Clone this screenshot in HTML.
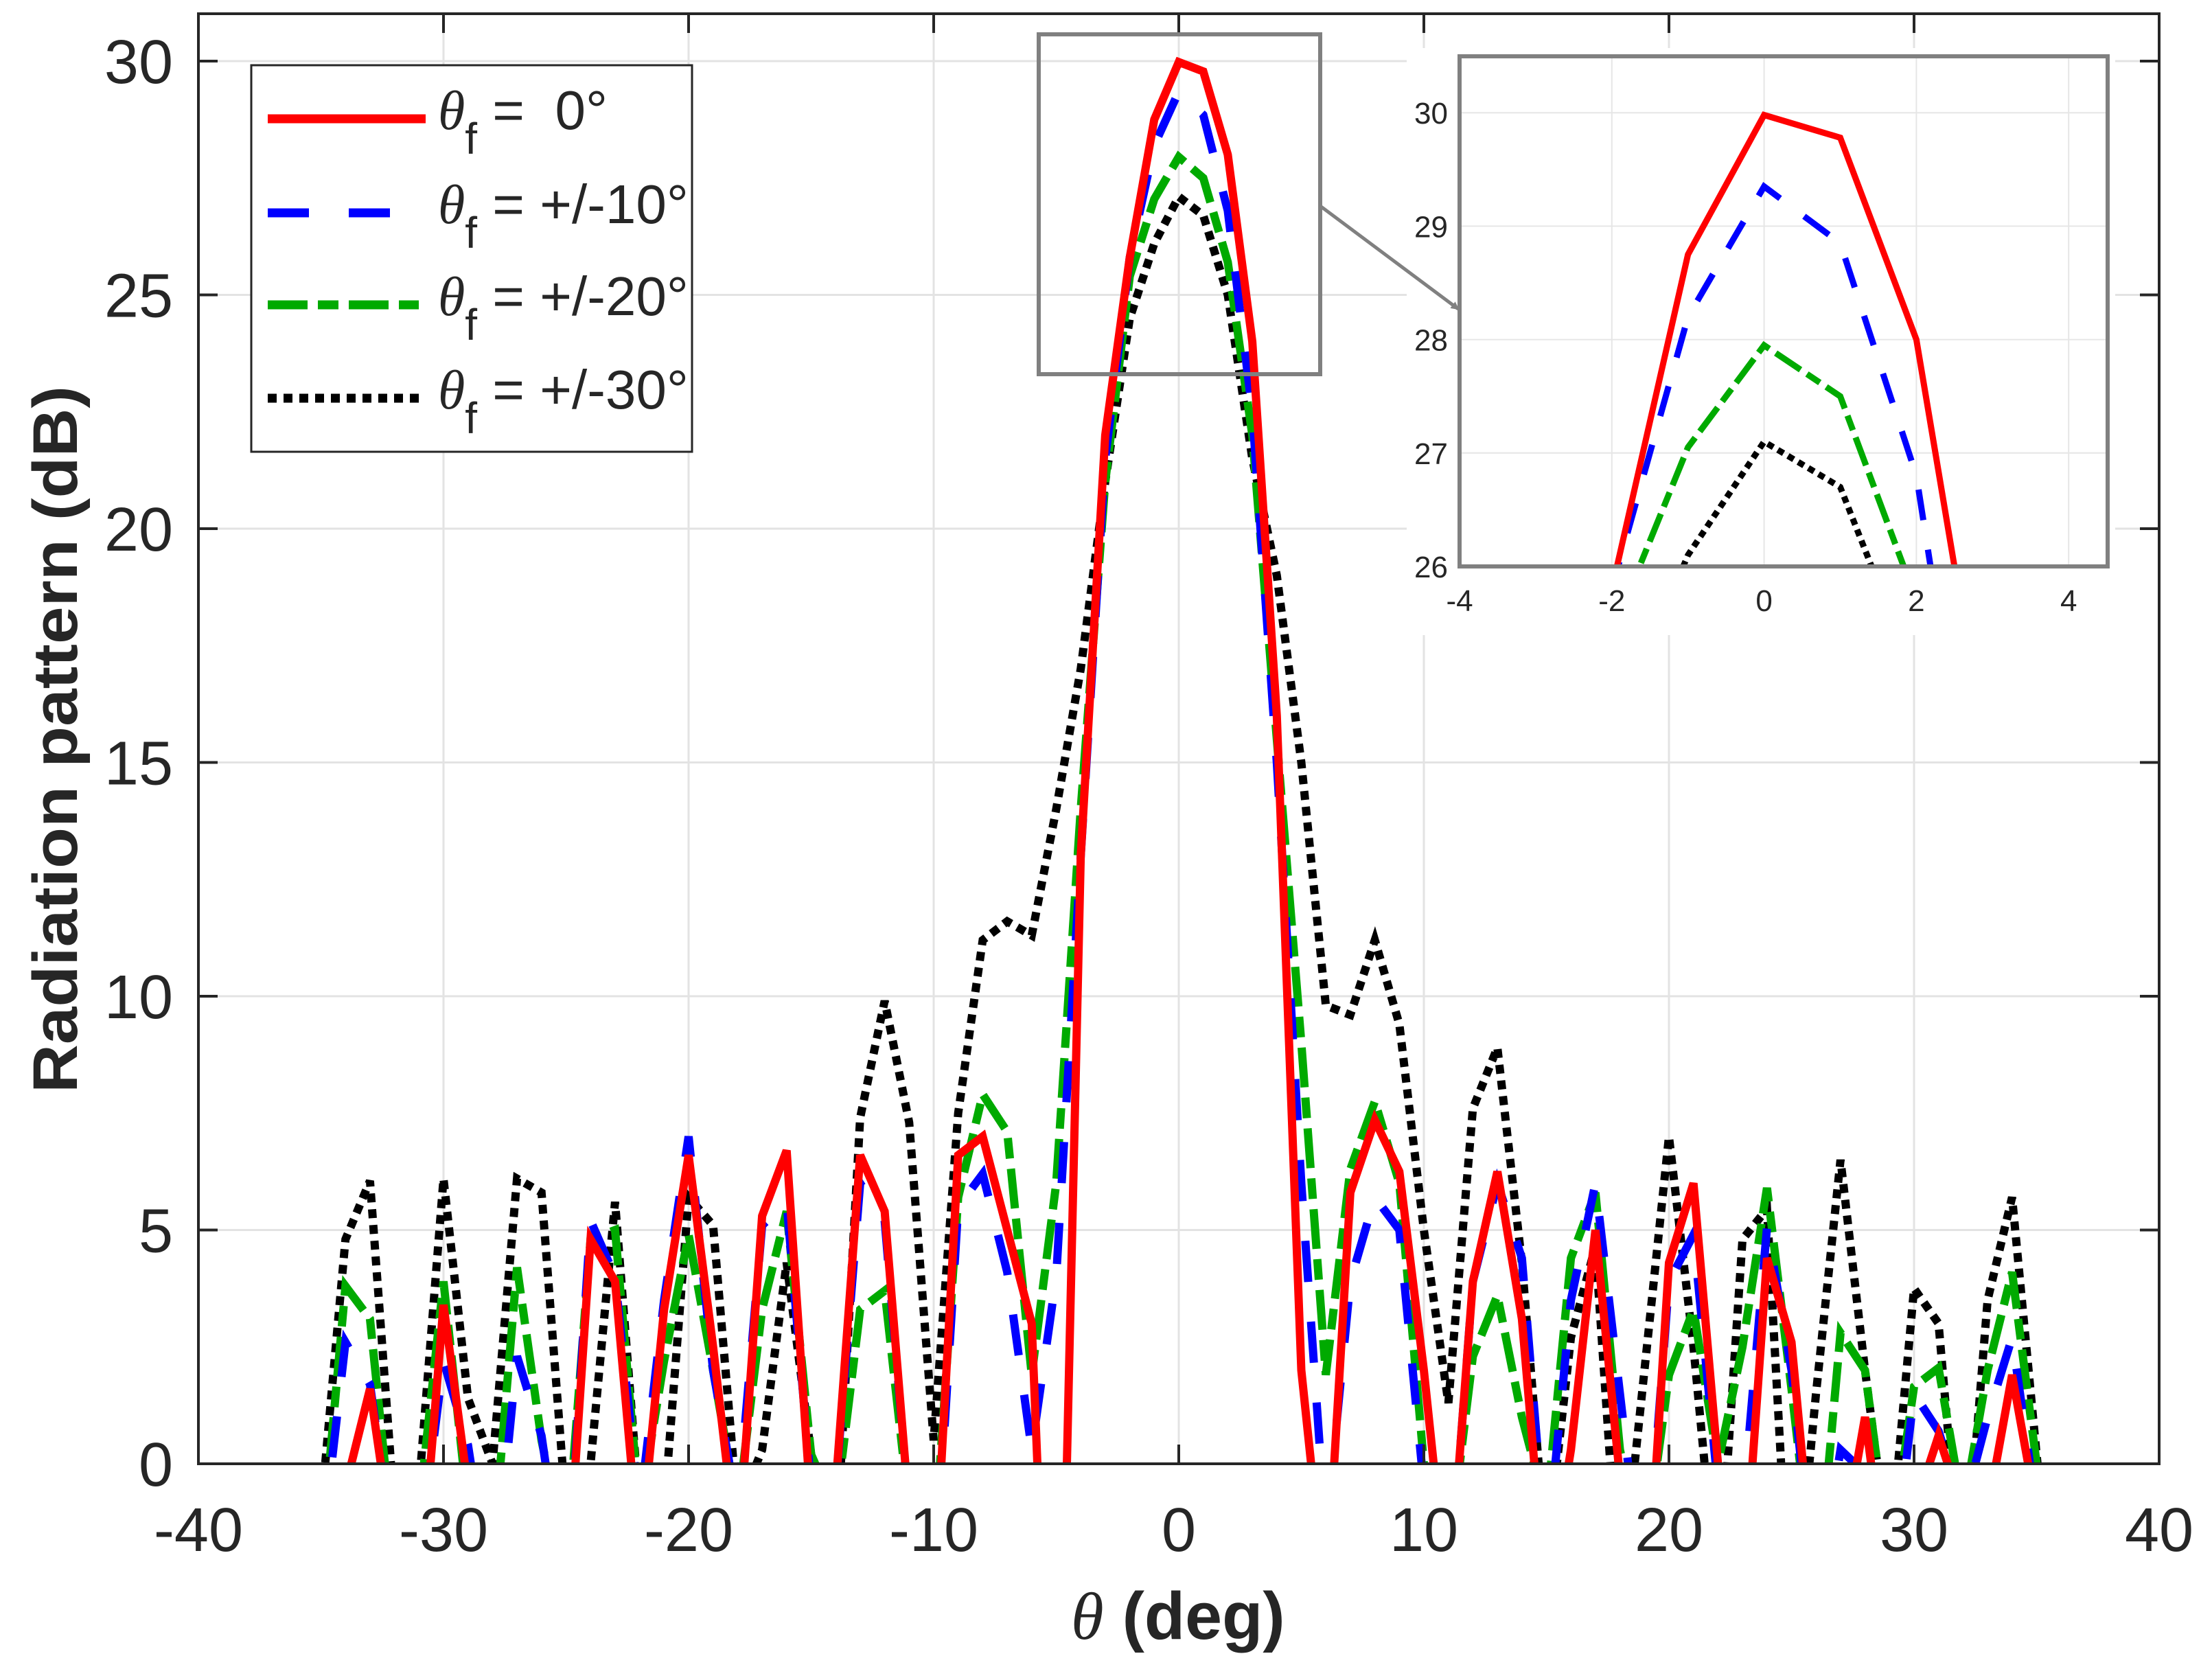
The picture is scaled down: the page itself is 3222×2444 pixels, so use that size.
<!DOCTYPE html>
<html><head><meta charset="utf-8"><style>
html,body{margin:0;padding:0;background:#fff;overflow:hidden;width:3222px;height:2444px}
svg{display:block}
text{font-family:"Liberation Sans",Arial,sans-serif;fill:#262626}
</style></head><body>
<svg id="chart" width="3222" height="2444" viewBox="0 0 3222 2444" xmlns="http://www.w3.org/2000/svg">
<defs>
<clipPath id="mainClip"><rect x="289" y="20" width="2856" height="2112"/></clipPath>
<clipPath id="insetClip"><rect x="2126" y="82" width="944" height="743"/></clipPath>
<marker id="arrowHead" markerWidth="12" markerHeight="12" refX="10" refY="6" orient="auto" markerUnits="userSpaceOnUse" viewBox="0 0 12 12"><path d="M0,0 L12,6 L0,12 z" fill="#808080"/></marker>
</defs>
<rect x="0" y="0" width="3222" height="2444" fill="#fff"/>
<g id="grid"></g>
<g id="series" clip-path="url(#mainClip)"></g>
<rect x="289" y="20" width="2856" height="2112" fill="none" stroke="#262626" stroke-width="4"/>
<g id="ticks"></g>
<g id="xlabels"></g>
<g id="ylabels"></g>
<text transform="translate(112,1077) rotate(-90)" text-anchor="middle" font-size="92" font-weight="bold" textLength="1030" lengthAdjust="spacingAndGlyphs">Radiation pattern (dB)</text>
<text x="1560" y="2387" font-size="97" font-weight="bold"><tspan font-family="Liberation Serif,serif" font-style="italic" font-weight="normal">θ</tspan> (deg)</text>

<rect x="1513" y="50" width="410" height="495" fill="none" stroke="#808080" stroke-width="6"/>

<g>
<rect x="2049" y="70" width="1032" height="855" fill="#fff"/>
<g id="igrid"></g>
<g id="iseries" clip-path="url(#insetClip)"></g>
<rect x="2126" y="82" width="944" height="743" fill="none" stroke="#808080" stroke-width="6"/>
<g id="ilabels"></g>
</g>
<line x1="1923" y1="300" x2="2124" y2="450" stroke="#808080" stroke-width="5" marker-end="url(#arrowHead)"/>

<g>
<rect x="366" y="95" width="642" height="563" fill="#fff" stroke="#262626" stroke-width="3"/>
<g>
<line x1="390" y1="173" x2="620" y2="173" stroke="#ff0000" stroke-width="13"/>
<text x="638" y="188" font-size="80"><tspan font-family="Liberation Serif,serif" font-style="italic">θ</tspan><tspan font-size="64" dy="36">f</tspan><tspan dy="-36">&#160;=&#160;&#160;0°</tspan></text>
</g>
<g>
<line x1="390" y1="310" x2="620" y2="310" stroke="#0000ff" stroke-width="13" stroke-dasharray="60 58"/>
<text x="638" y="325" font-size="80"><tspan font-family="Liberation Serif,serif" font-style="italic">θ</tspan><tspan font-size="64" dy="36">f</tspan><tspan dy="-36"> = +/-10°</tspan></text>
</g>
<g>
<line x1="390" y1="444" x2="610" y2="444" stroke="#00aa00" stroke-width="13" stroke-dasharray="58 15 30 15"/>
<text x="638" y="459" font-size="80"><tspan font-family="Liberation Serif,serif" font-style="italic">θ</tspan><tspan font-size="64" dy="36">f</tspan><tspan dy="-36"> = +/-20°</tspan></text>
</g>
<g>
<line x1="390" y1="580" x2="610" y2="580" stroke="#000" stroke-width="13" stroke-dasharray="13 10"/>
<text x="638" y="595" font-size="80"><tspan font-family="Liberation Serif,serif" font-style="italic">θ</tspan><tspan font-size="64" dy="36">f</tspan><tspan dy="-36"> = +/-30°</tspan></text>
</g>
</g>
</svg>
<script>
const angles = [];
for (let a = -36; a <= 36; a++) angles.push(a);
const red0 = [-5,-2,-0.5,1.6,-2,-3,3.4,-0.5,-3,-2,-3,-3,4.8,3.9,-2,3.3,6.6,2.5,-2,5.3,6.7,-1,-0.5,6.6,5.4,-1,-3,6.6,7.0,5,3,-10,13,22,25.8,28.75,29.98,29.78,28,24,16,2,-3,5.8,7.35,6.25,2,-3,3.9,6.25,3.1,-3,0.3,5,-0.3,-4,4.3,6,0,-3,4.4,2.6,-3,-2,1,-3,-1,0.6,-1,-1,1.9,-1,-5];
const blue10 = [-5,-2,2.6,1.7,-2,-2,2.2,0.4,-3,2.3,0.6,-3,5.2,4,-1,3.5,7,2,-1,5.1,5.6,-0.5,-0.5,6,5.2,-1,-3,5.5,6.2,4.1,0.3,4,13,21.5,25.8,28.2,29.35,28.85,26.8,22.5,15,6,-1.5,3.9,5.7,5,-0.5,-3,3.9,6,4.4,-2,3.5,6,1.5,-3,3.9,4.9,-0.5,-1,5.05,2,-3,0.3,-0.2,-3,1.5,0.7,-1,1,2.7,-1,-5];
const green20 = [-5,-2,3.8,3.1,-2,-1,3.9,-1,-2,4.2,0.5,-2,4.8,5,-1,2.2,4.9,2,-1,3.3,5.4,0.2,-1,3.3,3.7,-1,-2,5.7,7.9,7.1,1.9,6,14,21,25.4,27.05,27.95,27.5,25.7,22,15.5,9,1.9,6.3,7.75,6,0,-2,2.3,3.6,1,-1,4.4,5.8,0.3,-2,1.9,3.3,0,2.5,5.9,1.6,-3,2.8,2,-2,1.65,2.05,-1,2,4.1,0,-5];
const black30 = [-5,-1,4.8,6.05,-1,-0.5,6.1,1.4,0,6.1,5.8,-1,0,5.6,-1,-1,5.7,5.1,-1,0.3,4.3,0.2,-2,7.4,9.9,7.3,0.5,7.5,11.2,11.6,11.3,14,17,21,24.5,26.1,27.1,26.7,25,21.5,19,15,9.8,9.6,11.2,9.4,5,1.3,7.6,8.9,4.3,-2,2.7,4.65,-3,2,7,2.5,-3,4.8,5.45,-4,1.5,6.5,2,-2,3.75,3,-3,3.5,5.7,0.2,-5];
const xTicks = [-40,-30,-20,-10,0,10,20,30,40];
const yTicks = [0,5,10,15,20,25,30];
const insetXTicks = [-4,-2,0,2,4];
const insetYTicks = [26,27,28,29,30];

const NS = "http://www.w3.org/2000/svg";
const X = v => 1717 + 35.7 * v;
const Y = v => 2132 - 68.1 * v;
const IX = v => 2126 + (v + 4) * 110.9;
const IY = v => 825 - (v - 26) * 165.2;
function mk(tag, attrs, parent) {
  const e = document.createElementNS(NS, tag);
  for (const k in attrs) e.setAttribute(k, attrs[k]);
  parent.appendChild(e);
  return e;
}
const grid = document.getElementById('grid');
const ticks = document.getElementById('ticks');
const xl = document.getElementById('xlabels');
const yl = document.getElementById('ylabels');
xTicks.forEach(t => {
  const x = X(t);
  const g = mk('line', {x1: x, x2: x, y1: 20, y2: 2132, stroke: '#e3e3e3', 'stroke-width': 3}, grid);
  
  
  const tk = mk('path', {d: `M${x},2132 v-28 M${x},20 v28`, stroke: '#262626', 'stroke-width': 4}, ticks);
  
  
  const lb = mk('text', {x: x, y: 2259, 'text-anchor': 'middle', 'font-size': 90}, xl);
  lb.textContent = t;
  
  
});
yTicks.forEach(t => {
  const y = Y(t);
  const g = mk('line', {x1: 289, x2: 3145, y1: y, y2: y, stroke: '#e3e3e3', 'stroke-width': 3}, grid);
  
  
  const tk = mk('path', {d: `M289,${y} h28 M3145,${y} h-28`, stroke: '#262626', 'stroke-width': 4}, ticks);
  
  
  const lb = mk('text', {x: 252, y: y + 32, 'text-anchor': 'end', 'font-size': 90}, yl);
  lb.textContent = t;
  
  
});
const seriesDefs = [
  {vals: black30, color: '#000000', dash: '13 10', name: 'series-theta-30'},
  {vals: green20, color: '#00aa00', dash: '58 15 30 15', name: 'series-theta-20'},
  {vals: blue10, color: '#0000ff', dash: '60 58', name: 'series-theta-10'},
  {vals: red0, color: '#ff0000', dash: 'none', name: 'series-theta-0'}
];
const sg = document.getElementById('series');
const ig = document.getElementById('iseries');
seriesDefs.forEach(s => {
  const d = s.vals.map((v, i) => (i ? 'L' : 'M') + X(angles[i]).toFixed(1) + ',' + Y(v).toFixed(1)).join(' ');
  const p = mk('path', {d: d, fill: 'none', stroke: s.color, 'stroke-width': 12, 'stroke-dasharray': s.dash, 'stroke-linejoin': 'miter'}, sg);
  
  
  const di = s.vals.map((v, i) => (i ? 'L' : 'M') + IX(angles[i]).toFixed(1) + ',' + IY(v).toFixed(1)).join(' ');
  const dashI = s.dash === 'none' ? 'none' : s.dash.split(' ').map(n => n * 0.75).join(' ');
  const q = mk('path', {d: di, fill: 'none', stroke: s.color, 'stroke-width': 9, 'stroke-dasharray': dashI}, ig);
  
  
});
const igr = document.getElementById('igrid');
const il = document.getElementById('ilabels');
insetXTicks.forEach(t => {
  const x = IX(t);
  const g = mk('path', {d: `M${x},82 V825 M${x},825 v-10`, stroke: '#e6e6e6', 'stroke-width': 2}, igr);
  
  
  const lb = mk('text', {x: x, y: 890, 'text-anchor': 'middle', 'font-size': 44}, il);
  lb.textContent = t;
  
  
});
insetYTicks.forEach(t => {
  const y = IY(t);
  const g = mk('line', {x1: 2126, x2: 3070, y1: y, y2: y, stroke: '#e6e6e6', 'stroke-width': 2}, igr);
  
  
  const lb = mk('text', {x: 2109, y: y + 16, 'text-anchor': 'end', 'font-size': 44}, il);
  lb.textContent = t;
  
  
});
</script>
</body></html>
